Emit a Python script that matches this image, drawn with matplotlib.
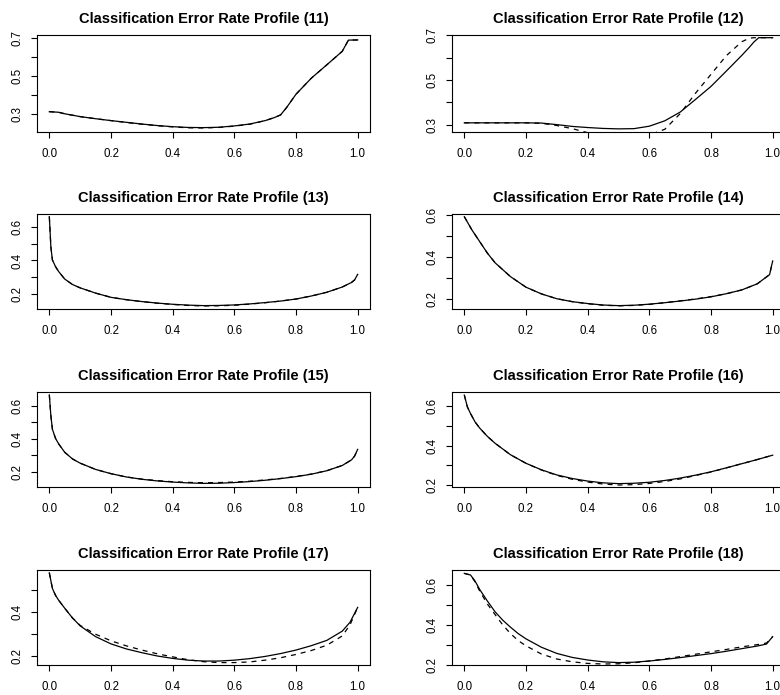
import matplotlib
matplotlib.use('Agg')
import matplotlib.pyplot as plt
from matplotlib.ticker import FixedLocator, FixedFormatter

plt.rcParams['font.family'] = ['Liberation Sans', 'DejaVu Sans']

# panel by panel
x_std = [0.0, 0.005, 0.01, 0.02, 0.03, 0.05, 0.075, 0.1, 0.15, 0.2, 0.25, 0.3, 0.35, 0.4, 0.45, 0.5,
         0.55, 0.6, 0.65, 0.7, 0.75, 0.8, 0.85, 0.9, 0.95, 0.98, 0.99, 1.0]

x11 = [0.0, 0.03, 0.05, 0.1, 0.15, 0.2, 0.25, 0.3, 0.35, 0.4, 0.45, 0.5, 0.55, 0.6, 0.65, 0.7,
       0.73, 0.75, 0.77, 0.8, 0.85, 0.9, 0.95, 0.97, 1.0]
err11 = [0.312, 0.309, 0.301, 0.286, 0.275, 0.265, 0.256, 0.247, 0.239, 0.233, 0.229, 0.228,
         0.230, 0.237, 0.247, 0.265, 0.281, 0.295, 0.335, 0.404, 0.489, 0.559, 0.630, 0.689, 0.690]
err11_d = [0.312, 0.309, 0.301, 0.286, 0.275, 0.265, 0.255, 0.246, 0.238, 0.232, 0.227, 0.226,
           0.229, 0.236, 0.246, 0.265, 0.281, 0.295, 0.335, 0.404, 0.489, 0.559, 0.630, 0.689, 0.690]

x12 = [0.0, 0.1, 0.2, 0.25, 0.3, 0.35, 0.4, 0.45, 0.5, 0.55, 0.6, 0.65, 0.7, 0.75, 0.8, 0.85,
       0.9, 0.925, 0.94, 0.955, 1.0]
err12 = [0.309, 0.309, 0.309, 0.308, 0.301, 0.293, 0.288, 0.284, 0.282, 0.283, 0.294, 0.318,
         0.357, 0.414, 0.472, 0.541, 0.611, 0.648, 0.672, 0.690, 0.690]
err12_d = [0.309, 0.309, 0.309, 0.307, 0.297, 0.283, 0.265, 0.250, 0.240, 0.243, 0.255, 0.280,
           0.350, 0.442, 0.526, 0.610, 0.672, 0.688, 0.690, 0.690, 0.690]

err13 = [0.659, 0.480, 0.403, 0.364, 0.335, 0.290, 0.258, 0.238, 0.207, 0.182, 0.168, 0.157,
         0.148, 0.141, 0.136, 0.133, 0.134, 0.137, 0.143, 0.151, 0.160, 0.172, 0.190, 0.212,
         0.243, 0.270, 0.285, 0.318]
err13_d = [0.659, 0.480, 0.403, 0.364, 0.335, 0.290, 0.258, 0.238, 0.207, 0.182, 0.168, 0.157,
           0.147, 0.140, 0.134, 0.131, 0.132, 0.135, 0.142, 0.150, 0.160, 0.172, 0.190, 0.212,
           0.243, 0.270, 0.285, 0.318]

x14 = [0.0, 0.025, 0.05, 0.075, 0.1, 0.15, 0.2, 0.25, 0.3, 0.35, 0.4, 0.45, 0.5, 0.55, 0.6,
       0.65, 0.7, 0.75, 0.8, 0.85, 0.9, 0.95, 0.99, 1.0]
err14 = [0.592, 0.528, 0.473, 0.418, 0.372, 0.306, 0.256, 0.224, 0.201, 0.187, 0.178, 0.171,
         0.168, 0.170, 0.175, 0.182, 0.190, 0.199, 0.210, 0.225, 0.243, 0.272, 0.316, 0.381]
err14_d = [0.592, 0.528, 0.473, 0.418, 0.372, 0.306, 0.256, 0.224, 0.201, 0.187, 0.177, 0.170,
           0.167, 0.169, 0.174, 0.182, 0.191, 0.200, 0.211, 0.225, 0.243, 0.272, 0.316, 0.381]

err15 = [0.667, 0.540, 0.458, 0.403, 0.370, 0.318, 0.278, 0.252, 0.214, 0.188, 0.168, 0.154,
         0.144, 0.137, 0.132, 0.129, 0.130, 0.134, 0.140, 0.148, 0.158, 0.170, 0.185, 0.206,
         0.238, 0.272, 0.295, 0.336]
err15_d = [0.667, 0.540, 0.458, 0.403, 0.370, 0.318, 0.278, 0.252, 0.214, 0.188, 0.168, 0.155,
           0.146, 0.139, 0.135, 0.133, 0.134, 0.137, 0.142, 0.150, 0.159, 0.171, 0.186, 0.206,
           0.238, 0.272, 0.295, 0.336]

x16 = [0.0, 0.01, 0.02, 0.035, 0.05, 0.075, 0.1, 0.15, 0.2, 0.25, 0.3, 0.35, 0.4, 0.45, 0.5,
       0.55, 0.6, 0.65, 0.7, 0.75, 0.8, 0.85, 0.9, 0.95, 1.0]
err16 = [0.656, 0.596, 0.563, 0.520, 0.489, 0.447, 0.412, 0.354, 0.311, 0.278, 0.252, 0.234,
         0.221, 0.212, 0.208, 0.210, 0.215, 0.224, 0.236, 0.251, 0.268, 0.288, 0.309, 0.330, 0.352]
err16_d = [0.656, 0.596, 0.563, 0.520, 0.489, 0.447, 0.412, 0.354, 0.311, 0.277, 0.250, 0.230,
           0.216, 0.206, 0.201, 0.203, 0.209, 0.219, 0.232, 0.249, 0.267, 0.288, 0.309, 0.330, 0.352]

x17 = [0.0, 0.01, 0.02, 0.03, 0.05, 0.075, 0.1, 0.15, 0.2, 0.25, 0.3, 0.35, 0.4, 0.45, 0.5,
       0.55, 0.6, 0.65, 0.7, 0.75, 0.8, 0.85, 0.9, 0.95, 0.975, 1.0]
err17 = [0.577, 0.506, 0.475, 0.453, 0.416, 0.372, 0.336, 0.287, 0.254, 0.231, 0.214, 0.199,
         0.188, 0.180, 0.176, 0.176, 0.180, 0.187, 0.197, 0.210, 0.226, 0.246, 0.270, 0.312,
         0.352, 0.420]
err17_d = [0.577, 0.506, 0.475, 0.453, 0.416, 0.372, 0.338, 0.298, 0.268, 0.245, 0.226, 0.209,
           0.195, 0.182, 0.173, 0.169, 0.169, 0.172, 0.180, 0.191, 0.206, 0.224, 0.248, 0.290,
           0.340, 0.420]

x18 = [0.0, 0.02, 0.035, 0.05, 0.075, 0.1, 0.125, 0.15, 0.175, 0.2, 0.25, 0.3, 0.35, 0.4, 0.45,
       0.5, 0.55, 0.6, 0.65, 0.7, 0.75, 0.8, 0.85, 0.9, 0.95, 0.98, 1.0]
err18 = [0.659, 0.651, 0.620, 0.578, 0.520, 0.466, 0.424, 0.389, 0.357, 0.331, 0.289, 0.258,
         0.238, 0.225, 0.216, 0.212, 0.214, 0.220, 0.228, 0.237, 0.247, 0.257, 0.269, 0.282,
         0.295, 0.305, 0.342]
err18_d = [0.659, 0.651, 0.616, 0.570, 0.505, 0.452, 0.400, 0.357, 0.322, 0.296, 0.255, 0.230,
           0.216, 0.208, 0.205, 0.206, 0.211, 0.220, 0.230, 0.242, 0.254, 0.266, 0.278, 0.291,
           0.302, 0.310, 0.342]

panels = [
    (11, x11, err11, err11_d, (0.205, 0.716), [0.3, 0.4, 0.5, 0.6, 0.7], ['0.3', '', '0.5', '', '0.7']),
    (12, x12, err12, err12_d, (0.268, 0.702), [0.3, 0.4, 0.5, 0.6, 0.7], ['0.3', '', '0.5', '', '0.7']),
    (13, x_std, err13, err13_d, (0.113, 0.675), [0.2, 0.3, 0.4, 0.5, 0.6], ['0.2', '', '0.4', '', '0.6']),
    (14, x14, err14, err14_d, (0.152, 0.605), [0.2, 0.3, 0.4, 0.5, 0.6], ['0.2', '', '0.4', '', '0.6']),
    (15, x_std, err15, err15_d, (0.107, 0.685), [0.2, 0.3, 0.4, 0.5, 0.6], ['0.2', '', '0.4', '', '0.6']),
    (16, x16, err16, err16_d, (0.191, 0.672), [0.2, 0.3, 0.4, 0.5, 0.6], ['0.2', '', '0.4', '', '0.6']),
    (17, x17, err17, err17_d, (0.158, 0.590), [0.2, 0.3, 0.4, 0.5], ['0.2', '', '0.4', '']),
    (18, x18, err18, err18_d, (0.200, 0.676), [0.2, 0.3, 0.4, 0.5, 0.6], ['0.2', '', '0.4', '', '0.6']),
]

W, H = 780, 695
col_left = [37, 452]
box_w = 333
rows = [(35, 132), (214, 309), (392, 487), (570, 665)]

fig = plt.figure(figsize=(W / 100, H / 100), dpi=100)

for i, (num, x, solid, dashed, ylim, yt, ytl) in enumerate(panels):
    top, bot = rows[i // 2]
    left = col_left[i % 2]
    ax = fig.add_axes([left / W, 1 - bot / H, box_w / W, (bot - top) / H])
    ax.plot(x, dashed, color='black', lw=0.9, ls=(0, (4, 4)))
    ax.plot(x, solid, color='black', lw=0.9)
    ax.set_xlim(-0.04, 1.04)
    ax.set_ylim(*ylim)
    ax.set_xticks([0.0, 0.2, 0.4, 0.6, 0.8, 1.0])
    ax.set_xticklabels(['0.0', '0.2', '0.4', '0.6', '0.8', '1.0'])
    ax.yaxis.set_major_locator(FixedLocator(yt))
    ax.yaxis.set_major_formatter(FixedFormatter(ytl))
    ax.tick_params(axis='both', direction='out', length=4.5, width=0.8, labelsize=8.3, color='black')
    ax.tick_params(axis='x', pad=7)
    ax.tick_params(axis='y', pad=5)
    for lab in ax.get_yticklabels():
        lab.set_rotation(90)
        lab.set_va('center')
    for sp in ax.spines.values():
        sp.set_linewidth(0.8)
    ax.set_title(f'Classification Error Rate Profile ({num})', fontsize=10.5, fontweight='bold', pad=8.5)

fig.savefig('out.png', dpi=100)
